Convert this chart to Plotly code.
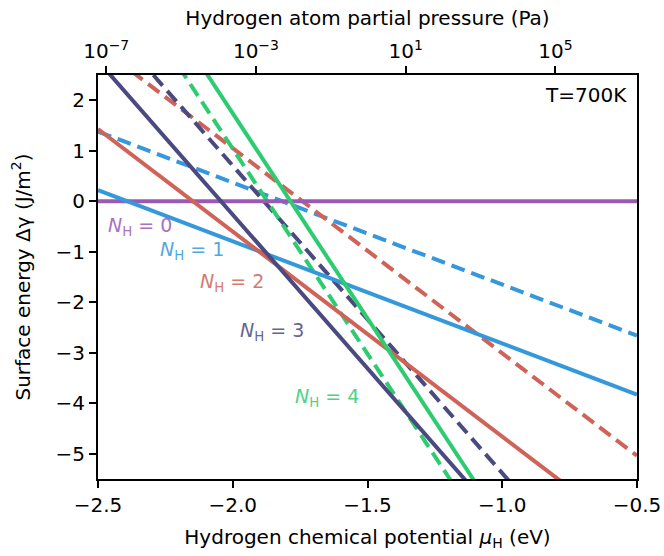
import plotly.graph_objects as go

# Data: straight lines given by their values at the two ends of the mu range
mu_ends = [-2.5, -0.5]
n_h = [0, 1, 2, 3, 4]
colors = ["#9b59b6", "#3498db", "#cf6357", "#4a4a80", "#2ecc71"]
solid_y = [[0.0, 0.0], [0.22, -3.83], [1.43, -6.69], [2.78, -9.40], [5.80, -10.44]]
dashed_y = [None, [1.38, -2.66], [3.08, -5.04], [3.75, -8.43], [5.10, -11.14]]
label_x = [-2.343, -2.150, -2.001, -1.853, -1.650]
label_y = [-0.50, -0.98, -1.61, -2.58, -3.89]

# top axis: pressure (Pa), log scale
p_range_log = [-7.22, 7.18]
p_ticks = [1e-7, 1e-3, 1e1, 1e5]
p_ticktext = ["10<sup>−7</sup>", "10<sup>−3</sup>", "10<sup>1</sup>", "10<sup>5</sup>"]

x_ticks = [-2.5, -2.0, -1.5, -1.0, -0.5]
x_ticktext = ["−2.5", "−2.0", "−1.5", "−1.0", "−0.5"]
y_ticks = [2, 1, 0, -1, -2, -3, -4, -5]
y_ticktext = ["2", "1", "0", "−1", "−2", "−3", "−4", "−5"]

FONT = "DejaVu Sans"
FS = 20
LFS = 19

fig = go.Figure()
for i, n in enumerate(n_h):
    if dashed_y[i] is not None:
        fig.add_trace(go.Scatter(x=mu_ends, y=dashed_y[i], mode="lines",
                                 line=dict(color=colors[i], width=4, dash="14px,7px"),
                                 showlegend=False, hoverinfo="skip"))
for i, n in enumerate(n_h):
    fig.add_trace(go.Scatter(x=mu_ends, y=solid_y[i], mode="lines",
                             line=dict(color=colors[i], width=4),
                             showlegend=False, hoverinfo="skip"))

# invisible trace for top axis
fig.add_trace(go.Scatter(x=[10 ** p_range_log[0], 10 ** p_range_log[1]], y=[0, 0],
                         xaxis="x2", mode="lines", line=dict(width=0),
                         opacity=0, showlegend=False, hoverinfo="skip"))

for i, n in enumerate(n_h):
    fig.add_annotation(x=label_x[i], y=label_y[i], xref="x", yref="y",
                       text=f"<i>N</i><sub>H</sub> = {n}", showarrow=False,
                       font=dict(family=FONT, size=LFS, color=colors[i]), opacity=0.85)

fig.add_annotation(x=0.985, y=0.985, xref="paper", yref="paper", xanchor="right", yanchor="top",
                   text="T=700K", showarrow=False, font=dict(family=FONT, size=FS, color="black"))

axis_common = dict(showgrid=False, zeroline=False, linecolor="black", linewidth=2,
                   ticks="outside", ticklen=7, tickwidth=1.5, tickcolor="black",
                   automargin=False,
                   tickfont=dict(family=FONT, size=FS, color="black"))

fig.update_layout(
    width=664, height=556,
    margin=dict(l=98, r=27, t=75, b=77),
    paper_bgcolor="white", plot_bgcolor="white",
    font=dict(family=FONT, size=FS, color="black"),
    xaxis=dict(range=[-2.5, -0.5], tickvals=x_ticks, ticktext=x_ticktext, mirror=True,
               title=dict(text="Hydrogen chemical potential <i>μ</i><sub>H</sub> (eV)",
                          font=dict(family=FONT, size=FS), standoff=14),
               **axis_common),
    yaxis=dict(range=[-5.5, 2.5], tickvals=y_ticks, ticktext=y_ticktext, mirror=True,
               title=dict(text="Surface energy Δγ (J/m<sup>2</sup>)",
                          font=dict(family=FONT, size=FS), standoff=20),
               **axis_common),
    xaxis2=dict(type="log", range=p_range_log, overlaying="x", side="top", anchor="y",
                tickvals=p_ticks, ticktext=p_ticktext,
                title=dict(text="Hydrogen atom partial pressure (Pa)", font=dict(family=FONT, size=FS), standoff=6),
                **axis_common),
)

fig.write_html("out.html")
